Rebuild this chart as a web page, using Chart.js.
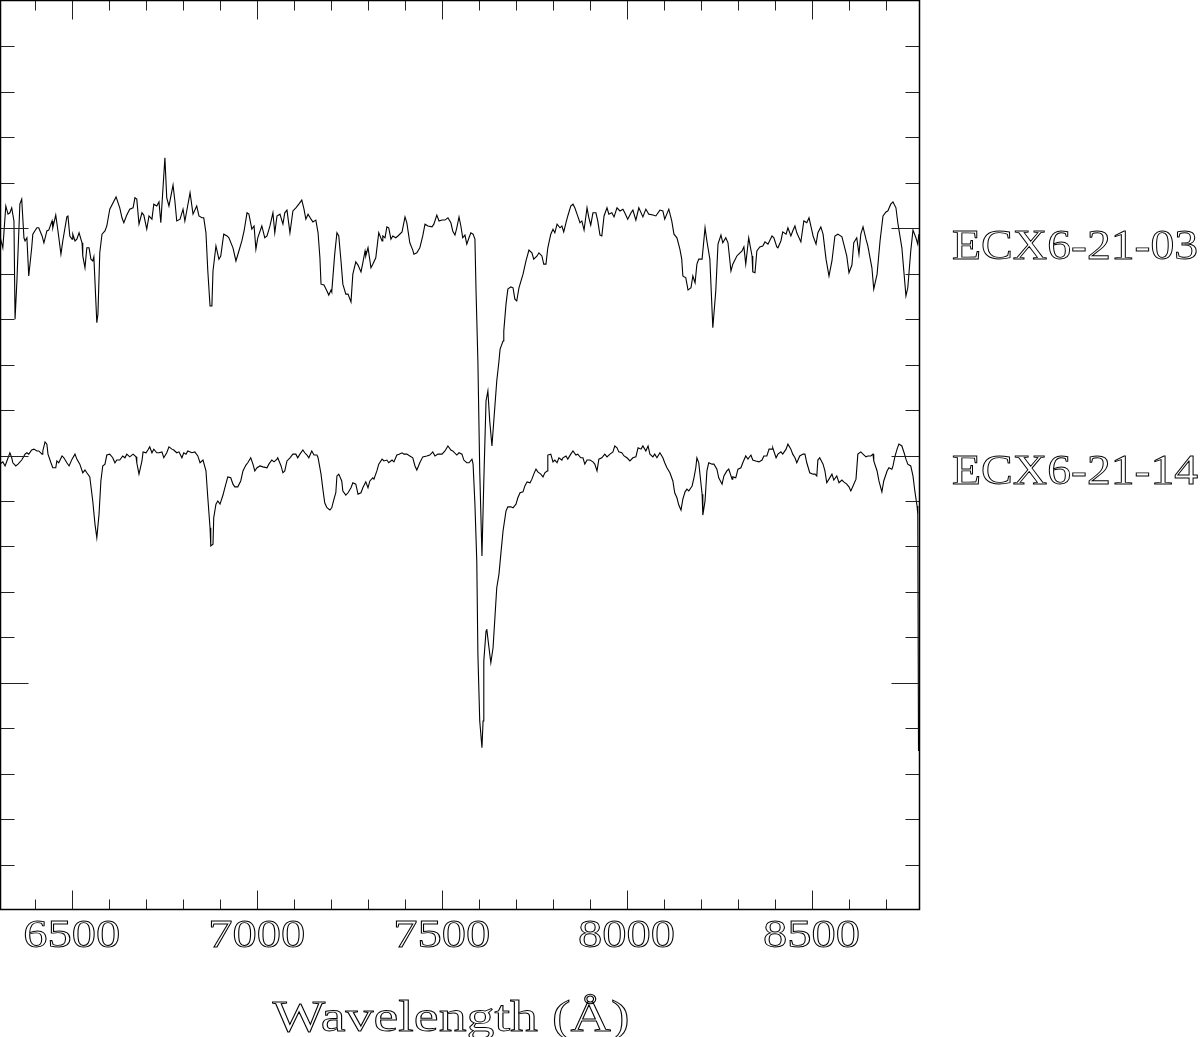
<!DOCTYPE html>
<html>
<head>
<meta charset="utf-8">
<script src="https://cdn.jsdelivr.net/npm/chart.js@4.4.1/dist/chart.umd.min.js"></script>
<style>
  html, body { margin: 0; padding: 0; background: #fff; }
  #wrap { width: 1200px; height: 1037px; }
</style>
</head>
<body>
<div id="wrap"><canvas id="spec" width="1200" height="1037"></canvas></div>
<script>
// Spectra: wavelength (Angstrom) and relative flux (offset)
const wavelength03 = [6306,6314,6322,6328,6333,6338,6344,6347,6352,6360,6365,6371,6374,6379,6384,6392,6395,6406,6411,6420,6425,6433,6438,6447,6449,6457,6463,6471,6476,6487,6490,6495,6501,6503,6509,6514,6520,6528,6530,6536,6541,6547,6552,6557,6560,6568,6571,6576,6582,6590,6595,6603,6620,6630,6636,6641,6649,6657,6666,6671,6676,6682,6690,6695,6703,6709,6717,6722,6730,6736,6741,6752,6757,6763,6774,6779,6784,6793,6801,6806,6811,6820,6828,6838,6844,6852,6857,6863,6868,6874,6879,6882,6890,6898,6903,6911,6920,6925,6936,6944,6952,6960,6966,6974,6979,6987,6993,6998,7003,7014,7022,7028,7036,7044,7049,7055,7063,7071,7076,7082,7090,7098,7106,7114,7122,7128,7133,7139,7147,7152,7160,7166,7171,7174,7182,7190,7195,7201,7203,7211,7217,7222,7228,7233,7241,7247,7255,7260,7268,7274,7282,7287,7293,7295,7301,7309,7314,7322,7330,7339,7341,7347,7352,7357,7363,7368,7376,7382,7393,7401,7406,7414,7422,7425,7433,7441,7449,7455,7463,7474,7479,7487,7493,7501,7509,7517,7525,7530,7536,7541,7547,7552,7557,7563,7568,7574,7579,7585,7590,7593,7598,7603,7609,7614,7620,7625,7630,7636,7641,7649,7655,7658,7666,7668,7674,7679,7687,7693,7698,7703,7709,7720,7728,7736,7744,7749,7758,7763,7771,7776,7782,7787,7795,7801,7806,7812,7814,7820,7825,7830,7836,7841,7849,7855,7860,7866,7874,7879,7885,7893,7898,7903,7909,7917,7922,7928,7933,7939,7947,7952,7960,7966,7974,7982,7990,7995,8003,8012,8017,8025,8033,8044,8052,8060,8071,8079,8090,8098,8103,8114,8122,8128,8136,8144,8149,8152,8160,8166,8174,8179,8185,8190,8195,8204,8212,8217,8225,8233,8241,8247,8255,8260,8268,8274,8282,8287,8298,8303,8312,8317,8322,8330,8339,8341,8347,8352,8360,8368,8374,8382,8393,8398,8406,8409,8417,8422,8431,8436,8444,8449,8455,8460,8471,8479,8487,8493,8501,8504,8512,8517,8525,8531,8539,8547,8555,8563,8571,8582,8587,8595,8601,8609,8614,8622,8628,8633,8639,8647,8652,8663,8668,8677,8685,8693,8701,8706,8714,8720,8728,8733,8744,8750,8755,8760,8768,8774,8782,8787,8790];
const flux03 = [14.83,14.57,15.49,15.31,15.34,15.45,15.16,13.00,13.84,15.53,15.64,14.79,14.72,14.79,13.95,14.57,14.87,15.01,15.01,14.83,14.68,14.94,14.96,15.16,15.01,15.29,14.94,14.43,14.72,15.25,15.27,14.83,14.76,14.87,14.72,14.76,14.90,14.68,14.39,14.13,14.57,14.57,14.32,14.28,14.37,12.92,13.11,14.46,14.87,14.94,15.05,15.42,15.69,15.45,15.23,15.12,15.29,15.42,15.45,15.67,15.64,15.09,15.34,15.29,14.98,15.27,15.20,15.53,15.49,15.58,15.12,16.55,15.67,15.49,15.95,15.60,15.16,15.20,15.42,15.16,15.38,15.78,15.31,15.49,15.27,15.23,15.23,14.90,14.06,13.29,13.29,14.06,14.61,14.32,14.39,14.87,14.83,14.79,14.57,14.28,14.50,14.72,14.94,15.34,15.31,14.98,15.05,14.54,14.79,15.05,14.79,14.83,15.05,15.34,14.90,15.27,15.31,15.09,15.34,15.40,14.90,15.38,15.45,15.53,15.62,15.42,15.20,15.31,15.20,15.14,15.18,14.90,14.35,13.77,13.75,13.62,13.53,13.64,13.60,14.43,14.90,14.83,14.28,13.77,13.55,13.55,13.38,13.99,14.26,14.19,14.04,14.24,14.50,14.39,14.57,14.13,14.21,14.35,14.90,14.72,14.83,14.79,15.03,15.01,14.76,14.83,14.79,14.83,14.92,15.25,15.12,14.68,14.52,14.43,14.46,14.57,14.83,15.09,15.05,15.03,15.09,15.29,15.16,15.18,15.18,15.23,15.12,14.94,14.85,15.01,15.25,15.05,14.79,14.85,14.65,14.79,14.90,14.87,14.76,13.62,12.08,9.66,7.79,9.44,11.20,11.42,10.76,10.21,10.76,11.64,12.08,12.34,12.52,12.74,13.33,13.66,13.71,13.69,13.44,13.40,13.69,13.99,14.28,14.52,14.46,14.32,14.39,14.46,14.39,14.21,14.21,14.57,14.87,14.98,14.90,15.09,15.09,15.01,15.05,14.92,15.12,15.27,15.49,15.53,15.45,15.31,15.12,15.16,14.96,15.45,15.23,15.07,15.34,15.34,15.16,14.85,14.83,15.27,15.45,15.31,15.34,15.25,15.45,15.38,15.42,15.34,15.20,15.34,15.40,15.18,15.45,15.25,15.42,15.31,15.29,15.27,15.40,15.38,15.20,15.42,15.16,14.87,14.79,14.54,14.32,13.95,13.91,13.64,13.69,13.95,13.80,14.21,14.32,14.32,15.01,14.72,14.32,12.81,13.62,14.65,14.85,14.68,14.79,14.68,14.06,14.21,14.39,14.43,14.50,14.59,14.21,14.79,14.39,14.04,14.02,14.50,14.59,14.61,14.70,14.65,14.83,14.79,14.59,14.57,14.72,14.92,14.87,15.01,14.83,14.94,15.05,14.90,14.70,15.16,15.12,15.23,14.94,14.83,14.65,14.90,15.03,14.87,14.32,13.95,14.28,14.83,14.87,14.81,14.65,14.39,14.02,14.19,14.68,14.79,14.43,14.87,15.03,14.76,14.61,14.13,13.66,13.99,14.72,15.27,15.36,15.38,15.53,15.58,15.45,15.12,14.57,13.99,13.51,13.69,14.50,14.96,14.79,14.65,14.87];

const wavelength14 = [6306,6314,6320,6325,6333,6338,6341,6349,6355,6365,6374,6379,6384,6392,6398,6406,6411,6420,6422,6428,6433,6436,6444,6449,6457,6460,6465,6474,6479,6487,6493,6501,6509,6514,6522,6530,6536,6541,6549,6557,6563,6568,6574,6579,6584,6590,6595,6603,6611,6617,6622,6630,6638,6644,6649,6657,6666,6674,6676,6682,6690,6693,6701,6706,6711,6717,6722,6730,6736,6744,6749,6757,6763,6771,6776,6784,6790,6798,6803,6809,6814,6825,6833,6841,6847,6855,6863,6868,6874,6876,6882,6884,6890,6895,6901,6909,6914,6922,6930,6936,6941,6949,6957,6963,6971,6976,6984,6990,6995,7001,7009,7017,7028,7033,7041,7047,7055,7057,7066,7071,7076,7082,7090,7098,7106,7111,7117,7125,7130,7136,7141,7149,7155,7163,7166,7174,7179,7184,7190,7198,7203,7209,7214,7217,7222,7230,7233,7241,7247,7255,7260,7268,7274,7282,7287,7295,7301,7306,7314,7317,7325,7330,7339,7344,7352,7357,7366,7371,7379,7385,7393,7398,7406,7414,7422,7428,7433,7441,7449,7460,7468,7476,7482,7490,7501,7509,7517,7525,7530,7541,7547,7555,7560,7568,7574,7582,7585,7590,7595,7598,7603,7609,7612,7614,7620,7622,7628,7633,7639,7644,7649,7655,7660,7666,7674,7679,7687,7693,7701,7706,7712,7720,7725,7731,7739,7744,7749,7755,7760,7768,7774,7779,7785,7787,7795,7801,7806,7812,7817,7825,7828,7836,7841,7849,7855,7863,7868,7876,7882,7887,7893,7901,7909,7914,7920,7925,7933,7941,7947,7955,7963,7968,7974,7979,7987,7993,8001,8009,8017,8025,8031,8039,8044,8052,8058,8063,8071,8076,8082,8090,8098,8103,8109,8117,8125,8130,8136,8141,8147,8152,8158,8163,8168,8177,8182,8187,8190,8195,8204,8206,8212,8217,8222,8231,8236,8244,8249,8258,8263,8271,8276,8285,8287,8295,8301,8309,8314,8322,8328,8336,8341,8349,8358,8366,8371,8379,8385,8393,8395,8404,8409,8417,8422,8431,8436,8444,8449,8455,8460,8468,8477,8482,8487,8495,8504,8509,8514,8517,8522,8531,8536,8541,8547,8555,8560,8568,8574,8582,8587,8595,8601,8606,8612,8620,8625,8633,8639,8647,8652,8660,8666,8668,8677,8682,8690,8695,8704,8709,8717,8720,8725,8731,8736,8744,8750,8755,8760,8768,8774,8779,8785,8787,8789];
const flux14 = [9.81,9.86,9.77,9.88,10.06,9.95,9.84,9.77,9.81,9.90,10.03,10.06,10.03,10.12,10.14,10.10,10.10,10.03,10.10,10.30,10.25,10.03,9.84,9.73,9.73,9.88,9.84,9.99,9.95,9.84,9.77,9.92,10.03,9.92,9.81,9.62,9.68,9.62,9.53,9.00,8.49,8.19,8.71,9.44,9.77,9.81,10.01,10.03,9.95,9.84,9.90,9.90,9.99,9.95,10.03,9.97,10.03,9.97,9.84,9.59,9.88,10.08,10.06,10.12,10.19,10.06,10.14,10.06,10.06,10.08,9.95,10.06,10.19,10.14,10.12,10.06,10.08,9.95,10.06,10.03,10.10,10.06,10.08,9.99,9.84,9.90,9.66,9.07,8.41,8.01,8.05,8.63,8.93,9.00,8.93,9.13,9.29,9.53,9.51,9.37,9.31,9.31,9.44,9.66,9.79,9.84,9.95,9.81,9.66,9.73,9.77,9.75,9.73,9.81,9.90,9.86,9.92,9.95,9.77,9.62,9.66,9.88,9.95,10.03,10.03,9.95,10.03,10.12,10.06,10.01,9.95,10.10,10.01,10.01,9.95,9.59,9.26,8.96,8.85,8.80,8.85,9.04,9.18,9.55,9.59,9.44,9.22,9.13,9.18,9.29,9.40,9.37,9.15,9.18,9.29,9.42,9.29,9.44,9.51,9.48,9.66,9.81,9.92,9.88,9.90,9.84,9.90,9.86,10.01,10.03,10.06,10.03,10.03,9.99,9.95,9.77,9.68,9.84,9.97,9.99,10.01,10.08,9.99,10.03,10.03,10.10,10.21,10.12,10.10,10.01,10.06,10.03,9.90,9.84,9.84,9.92,9.81,8.93,7.68,5.63,4.16,3.57,4.16,5.48,6.14,6.18,5.77,5.44,5.77,6.43,7.09,7.39,7.83,8.34,8.78,8.87,8.87,8.85,8.93,9.07,9.18,9.20,9.33,9.42,9.40,9.48,9.59,9.70,9.64,9.59,9.53,9.62,9.66,10.01,10.03,9.86,9.90,9.84,9.95,9.90,9.95,9.99,9.92,10.03,10.10,10.01,10.03,9.95,9.95,9.81,9.90,9.90,9.86,9.81,9.66,9.92,9.95,10.03,9.97,10.03,10.08,10.21,10.17,10.08,10.06,9.99,9.95,9.88,9.95,9.97,10.17,10.14,10.21,10.10,10.21,10.03,9.97,10.03,9.95,10.06,9.95,9.84,9.73,9.62,9.44,9.18,9.07,8.91,8.80,9.04,9.20,9.26,9.22,9.33,9.51,9.73,9.95,9.84,9.15,8.69,9.00,9.66,9.84,9.81,9.81,9.70,9.51,9.37,9.55,9.66,9.70,9.48,9.53,9.51,9.70,9.73,9.84,9.99,9.92,10.01,9.90,9.88,9.86,9.90,9.99,9.99,10.14,10.14,10.17,9.95,10.03,10.08,10.03,10.14,10.25,10.14,10.03,9.95,9.84,9.99,10.03,10.03,9.84,9.62,9.59,9.59,9.55,9.90,9.95,9.81,9.66,9.40,9.48,9.59,9.46,9.55,9.40,9.46,9.42,9.37,9.31,9.22,9.33,9.48,10.03,10.08,10.03,9.97,9.99,9.99,10.03,9.88,9.66,9.44,9.20,9.44,9.66,9.73,9.70,9.77,9.97,10.14,10.25,10.21,10.06,9.92,9.81,9.77,9.55,9.22,8.89,8.71,3.50];

const seriesNames = ['ECX6-21-03', 'ECX6-21-14'];
const xMinorTicks = [6400,6500,6600,6700,6800,6900,7000,7100,7200,7300,7400,7500,7600,7700,7800,7900,8000,8100,8200,8300,8400,8500,8600,8700];
const xTickLabels = [6500,7000,7500,8000,8500];
const yMinorTicks = [1,2,3,4,5,6,7,8,9,10,11,12,13,14,15,16,17,18,19];
const yMajorTicks = [5,10,15];
const xTitle = 'Wavelength (Å)';

const toPoints = (xs, ys) => xs.map((x, i) => ({ x: x, y: ys[i] }));

// Outlined (stroked) text, stretched horizontally to a given width
function outlineText(ctx, text, x, y, size, width, align) {
    ctx.save();
    ctx.font = size + 'px "Liberation Serif"';
    const w = ctx.measureText(text).width;
    const sx = width / w;
    ctx.translate(x, y);
    ctx.scale(sx, 1);
    ctx.textAlign = align;
    ctx.textBaseline = 'alphabetic';
    ctx.lineWidth = 0.9;
    ctx.strokeStyle = '#000';
    ctx.strokeText(text, 0, 0);
    ctx.restore();
}

const framePlugin = {
    id: 'frame',
    afterDraw(chart) {
        const ctx = chart.ctx;
        const ca = chart.chartArea;
        const xs = chart.scales.x;
        const ys = chart.scales.y;
        const L = ca.left - 0.5, R = ca.right - 0.5, T = ca.top - 0.5, B = ca.bottom - 0.5;

        ctx.save();
        // ticks
        ctx.strokeStyle = '#222';
        ctx.lineWidth = 1;
        ctx.beginPath();
        xMinorTicks.forEach(v => {
            const px = Math.round(xs.getPixelForValue(v)) + 0.5;
            const len = xTickLabels.includes(v) ? 19 : 10;
            ctx.moveTo(px, B); ctx.lineTo(px, B - len);
            ctx.moveTo(px, T); ctx.lineTo(px, T + len);
        });
        yMinorTicks.forEach(v => {
            const py = Math.round(ys.getPixelForValue(v)) + 0.5;
            const len = yMajorTicks.includes(v) ? 28 : 14;
            ctx.moveTo(L, py); ctx.lineTo(L + len, py);
            ctx.moveTo(R, py); ctx.lineTo(R - len, py);
        });
        ctx.stroke();

        // frame
        ctx.strokeStyle = '#000';
        ctx.lineWidth = 1.5;
        ctx.strokeRect(L, T, R - L, B - T);
        ctx.restore();

        // tick labels
        xTickLabels.forEach(v => {
            outlineText(ctx, String(v), xs.getPixelForValue(v), 947, 40, 97, 'center');
        });
        // axis title
        outlineText(ctx, xTitle, 451, 1031, 44, 357, 'center');
        // spectrum names
        outlineText(ctx, seriesNames[0], 952, 259, 42, 246, 'left');
        outlineText(ctx, seriesNames[1], 952, 484, 42, 246, 'left');
    }
};

new Chart(document.getElementById('spec').getContext('2d'), {
    type: 'line',
    data: {
        datasets: [
            { label: seriesNames[0], data: toPoints(wavelength03, flux03) },
            { label: seriesNames[1], data: toPoints(wavelength14, flux14) }
        ]
    },
    options: {
        responsive: false,
        animation: false,
        parsing: true,
        layout: { padding: { left: 1, top: 1, right: 280, bottom: 127 } },
        elements: {
            line: { borderColor: '#000', borderWidth: 1.1, tension: 0, fill: false },
            point: { radius: 0 }
        },
        scales: {
            x: { type: 'linear', min: 6309, max: 8793, display: false },
            y: { type: 'linear', min: 0, max: 20, display: false }
        },
        plugins: {
            legend: { display: false },
            tooltip: { enabled: false }
        }
    },
    plugins: [framePlugin]
});
</script>
</body>
</html>
